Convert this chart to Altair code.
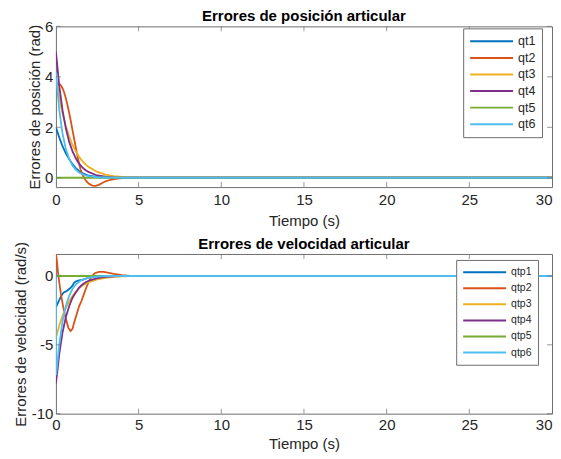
import altair as alt
import pandas as pd

# ---------------- data ----------------
X_TICKS = [0, 5, 10, 15, 20, 25, 30]
X_INNER = [5, 10, 15, 20, 25]
POS_DOMAIN = [-0.37, 6]
POS_TICKS = [0, 2, 4, 6]
VEL_DOMAIN = [-10, 1.6]
VEL_TICKS = [-10, -5, 0]

POS_NAMES = ["qt1", "qt2", "qt3", "qt4", "qt5", "qt6"]
VEL_NAMES = ["qtp1", "qtp2", "qtp3", "qtp4", "qtp5", "qtp6"]
COLORS = ["#0072BD", "#D95319", "#EDB120", "#7E2F8E", "#77AC30", "#4DBEEE"]

# position errors (rad)
qt1_t = [0, 0.2, 0.4, 0.6, 0.8, 1.0, 1.2, 1.4, 1.6, 1.8, 2.0, 2.5, 3.0, 4.0, 30]
qt1 = [2.0, 1.6, 1.25, 0.97, 0.74, 0.54, 0.38, 0.27, 0.19, 0.13, 0.08, 0.03, 0.01, 0, 0]
qt2_t = [0, 0.1, 0.2, 0.3, 0.4, 0.5, 0.6, 0.7, 0.8, 0.9, 1.0, 1.1, 1.2, 1.3, 1.4, 1.5,
         1.6, 1.7, 1.8, 1.9, 2.0, 2.2, 2.4, 2.6, 2.8, 3.0, 3.3, 3.6, 4.0, 4.5, 30]
qt2 = [3.6, 3.7, 3.72, 3.66, 3.55, 3.38, 3.15, 2.88, 2.58, 2.25, 1.9, 1.55, 1.2, 0.87, 0.57, 0.31,
       0.12, 0.0, -0.1, -0.18, -0.24, -0.31, -0.32, -0.28, -0.21, -0.14, -0.08, -0.04, -0.01, 0, 0]
qt3_t = [0, 0.2, 0.4, 0.6, 0.8, 1.0, 1.2, 1.4, 1.6, 1.8, 2.0, 2.5, 3.0, 3.5, 4.0, 4.5, 5.0, 30]
qt3 = [4.0, 3.2, 2.55, 2.05, 1.65, 1.3, 1.05, 0.83, 0.66, 0.52, 0.42, 0.23, 0.12, 0.06, 0.03, 0.01, 0, 0]
qt4_t = [0, 0.2, 0.4, 0.6, 0.8, 1.0, 1.2, 1.4, 1.6, 1.8, 2.0, 2.5, 3.0, 3.5, 4.0, 30]
qt4 = [5.0, 3.66, 2.68, 1.96, 1.43, 1.05, 0.77, 0.56, 0.41, 0.3, 0.22, 0.09, 0.04, 0.015, 0, 0]
qt5_t = [0, 30]
qt5 = [0, 0]
qt6_t = [0, 0.2, 0.4, 0.6, 0.8, 1.0, 1.2, 1.4, 1.6, 1.8, 2.0, 2.5, 3.0, 4.0, 30]
qt6 = [4.2, 2.7, 1.75, 1.15, 0.75, 0.48, 0.32, 0.21, 0.14, 0.09, 0.06, 0.02, 0.01, 0, 0]

# velocity errors (rad/s)
qtp1_t = [0, 0.1, 0.2, 0.3, 0.4, 0.5, 0.6, 0.7, 0.8, 0.9, 1.0, 1.1, 1.2, 1.4, 1.6, 1.8, 2.0, 2.3, 2.8, 30]
qtp1 = [-2.3, -2.0, -1.75, -1.5, -1.3, -1.18, -1.12, -1.05, -0.95, -0.85, -0.7, -0.5, -0.4,
        -0.32, -0.28, -0.2, -0.1, -0.04, 0, 0]
qtp2_t = [0, 0.05, 0.15, 0.3, 0.45, 0.6, 0.75, 0.88, 1.0, 1.1, 1.25, 1.4, 1.55, 1.7, 1.85,
          2.0, 2.15, 2.35, 2.6, 2.9, 3.2, 3.5, 4.0, 4.5, 5.0, 30]
qtp2 = [1.6, 1.2, 0.0, -1.3, -2.3, -3.1, -3.75, -4.0, -3.85, -3.4, -2.8, -2.2, -1.8, -1.3, -0.8,
        -0.4, -0.05, 0.2, 0.3, 0.3, 0.22, 0.15, 0.06, 0.01, 0, 0]
qtp3_t = [0, 0.2, 0.4, 0.6, 0.8, 1.0, 1.2, 1.4, 1.6, 1.8, 2.0, 2.5, 3.0, 3.5, 4.0, 4.5, 30]
qtp3 = [-4.5, -3.6, -2.9, -2.3, -1.85, -1.45, -1.15, -0.9, -0.7, -0.55, -0.45, -0.25, -0.13,
        -0.07, -0.03, 0, 0]
qtp4_t = [0, 0.1, 0.2, 0.4, 0.6, 0.8, 1.0, 1.2, 1.4, 1.6, 1.8, 2.0, 2.5, 3.0, 3.5, 4.0, 30]
qtp4 = [-7.8, -6.8, -5.7, -4.1, -3.0, -2.2, -1.6, -1.2, -0.85, -0.62, -0.45, -0.33, -0.15,
        -0.06, -0.02, 0, 0]
qtp5_t = [0, 30]
qtp5 = [0, 0]
qtp6_t = [0, 0.01, 0.2, 0.4, 0.6, 0.8, 1.0, 1.2, 1.4, 1.6, 2.0, 2.5, 3.0, 30]
qtp6 = [0, -7.2, -5.0, -3.3, -2.2, -1.45, -0.95, -0.62, -0.42, -0.28, -0.12, -0.04, 0, 0]

# ---------------- build ----------------
FONT = "Liberation Sans"
GRAY = "#6e6e6e"
TEXT = "#262626"
HYPHEN_LABEL = "datum.value < 0 ? '-' + abs(datum.value) : datum.label"
X_LABEL_ALIGN = {"condition": {"test": "datum.value == 30", "value": "right"},
                 "value": "center"}


def long_df(names, ts, vs):
    rows = []
    for n, t, v in zip(names, ts, vs):
        for ti, vi in zip(t, v):
            rows.append({"t": ti, "v": vi, "s": n})
    return pd.DataFrame(rows)


pos_df = long_df(POS_NAMES, [qt1_t, qt2_t, qt3_t, qt4_t, qt5_t, qt6_t],
                 [qt1, qt2, qt3, qt4, qt5, qt6])
vel_df = long_df(VEL_NAMES, [qtp1_t, qtp2_t, qtp3_t, qtp4_t, qtp5_t, qtp6_t],
                 [qtp1, qtp2, qtp3, qtp4, qtp5, qtp6])


def panel(df, names, ydom, yticks, title, title_off, ytitle, ytitle_pad, h, lx, ly,
          legend_font, clip_h, row_pad, leg_pad, xlab_pad, xtitle_pad):
    xscale = alt.Scale(domain=[0, 30], nice=False, zero=False)
    yscale = alt.Scale(domain=ydom, nice=False, zero=False)
    xenc = alt.X("t:Q", scale=xscale,
                 axis=alt.Axis(values=X_TICKS, title="Tiempo (s)", labelPadding=xlab_pad,
                               titlePadding=xtitle_pad, labelAlign=X_LABEL_ALIGN))
    yenc = alt.Y("v:Q", scale=yscale,
                 axis=alt.Axis(values=yticks, title=ytitle, labelPadding=3,
                               titlePadding=ytitle_pad, labelExpr=HYPHEN_LABEL))
    lines = alt.Chart(df).mark_line(strokeWidth=1.8, clip=True).encode(
        x=xenc, y=yenc,
        color=alt.Color("s:N", scale=alt.Scale(domain=names, range=COLORS),
                        legend=alt.Legend(
                            orient="none", legendX=lx, legendY=ly, title=None,
                            symbolType="stroke", symbolSize=1849,
                            symbolStrokeWidth=2, clipHeight=clip_h,
                            rowPadding=row_pad, padding=leg_pad, strokeColor=GRAY,
                            fillColor="white", labelFontSize=legend_font,
                            labelFont=FONT, labelColor=TEXT, labelOffset=4,
                            symbolOffset=0)),
    )
    xin = pd.DataFrame({"t": X_INNER})
    yin = pd.DataFrame({"v": yticks})
    tick_kw = dict(size=5, thickness=1, color=GRAY)
    bot = alt.Chart(xin).mark_tick(orient="vertical", yOffset=-2.5, **tick_kw).encode(
        x=xenc, y=alt.datum(ydom[0]))
    top = alt.Chart(xin).mark_tick(orient="vertical", yOffset=2.5, **tick_kw).encode(
        x=xenc, y=alt.datum(ydom[1]))
    left = alt.Chart(yin).mark_tick(orient="horizontal", xOffset=2.5, **tick_kw).encode(
        y=yenc, x=alt.datum(0))
    right = alt.Chart(yin).mark_tick(orient="horizontal", xOffset=-2.5, **tick_kw).encode(
        y=yenc, x=alt.datum(30))
    return alt.layer(lines, bot, top, left, right).properties(
        width=497, height=h,
        title=alt.TitleParams(title, fontSize=15, fontWeight="bold", font=FONT,
                              color="black", offset=title_off),
    )


p1 = panel(pos_df, POS_NAMES, POS_DOMAIN, POS_TICKS, "Errores de posición articular", -5,
           "Errores de posición (rad)", 2, 161, 408, 2, 12.5, 14, 2.6, 6, 5, 6)
p2 = panel(vel_df, VEL_NAMES, VEL_DOMAIN, VEL_TICKS, "Errores de velocidad articular", -11,
           "Errores de velocidad (rad/s)", 3, 160, 401, 6, 10.5, 12.5, 3.1, 6, 4, 4)

chart = alt.vconcat(p1, p2, spacing=7).resolve_scale(color="independent").resolve_legend(
    color="independent"
).properties(
    padding={"left": 4, "top": 0, "right": 0, "bottom": 0},
    background="white",
).configure_view(stroke=GRAY, strokeWidth=1).configure_axis(
    grid=False, domain=False, ticks=False, tickSize=0,
    labelFont=FONT, labelFontSize=15, labelColor=TEXT,
    titleFont=FONT, titleFontSize=15, titleColor=TEXT, titleFontWeight="normal",
)

chart.save("out.html", embed_options={"renderer": "svg", "actions": False})
